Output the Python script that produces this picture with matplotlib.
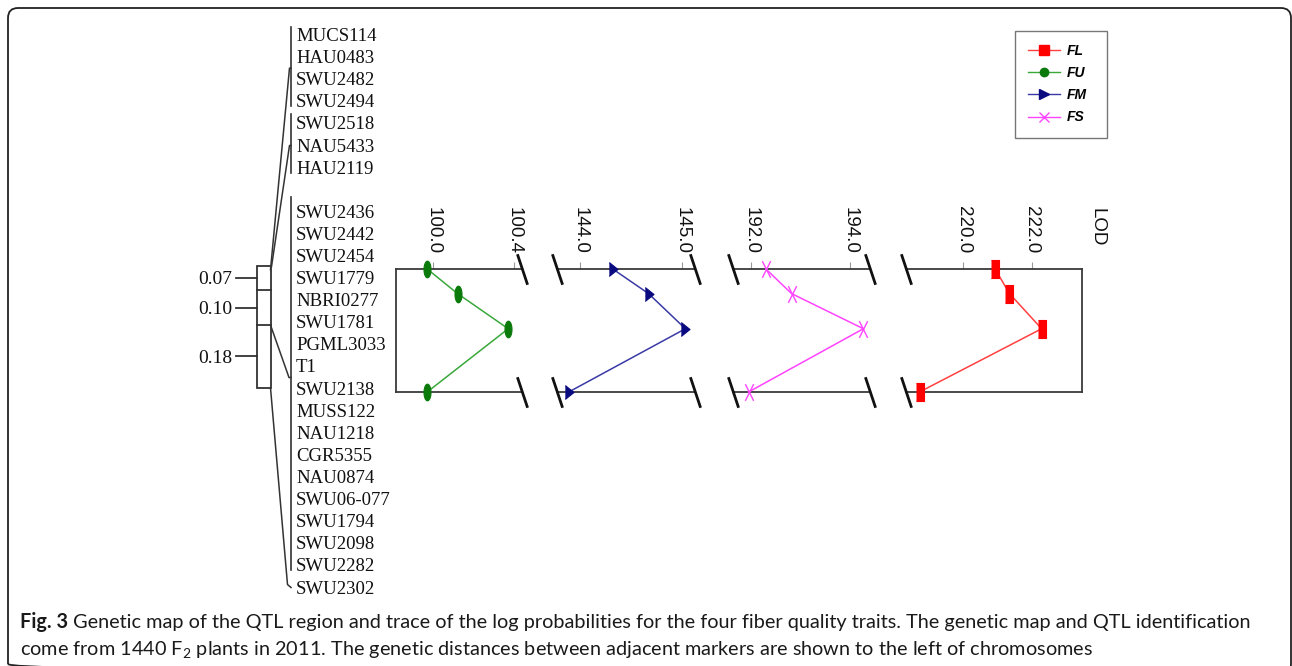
import matplotlib
matplotlib.use('Agg')
import matplotlib.pyplot as plt
import numpy as np
from matplotlib.path import Path
from matplotlib.lines import Line2D
from matplotlib.patches import PathPatch, Rectangle

W, H = 1292, 666

# genetic map markers (top to bottom)
group_a = ['MUCS114', 'HAU0483', 'SWU2482', 'SWU2494']
group_b = ['SWU2518', 'NAU5433', 'HAU2119']
group_c = ['SWU2436', 'SWU2442', 'SWU2454', 'SWU1779', 'NBRI0277', 'SWU1781',
           'PGML3033', 'T1', 'SWU2138', 'MUSS122', 'NAU1218', 'CGR5355',
           'NAU0874', 'SWU06-077', 'SWU1794', 'SWU2098', 'SWU2282']
group_d = ['SWU2302']
interval_cm = [0.07, 0.10, 0.18]
interval_labels = ['0.07', '0.10', '0.18']

# LOD traces: LOD value at each map position (cM)
pos_cm = [0.0, 0.07, 0.17, 0.35]
lod_fu = [99.97, 100.12, 100.37, 99.97]
lod_fm = [144.32, 144.67, 145.03, 143.89]
lod_fs = [192.30, 192.82, 194.27, 191.95]
lod_fl = [220.93, 221.35, 222.29, 218.72]
fu_ticks = [100.0, 100.4]
fm_ticks = [144.0, 145.0]
fs_ticks = [192.0, 194.0]
fl_ticks = [220.0, 222.0]

plt.rcParams['mathtext.fontset'] = 'custom'
plt.rcParams['mathtext.rm'] = 'Lato'
plt.rcParams['mathtext.it'] = 'Lato:italic'

fig = plt.figure(figsize=(W / 100, H / 100), dpi=100)
ax0 = fig.add_axes([0, 0, 1, 1])
ax0.set_xlim(0, W)
ax0.set_ylim(H, 0)
ax0.axis('off')

# border (rounded frame, bottom edge runs off the picture)
L, T, R, B, rc = 8, 8, 1291, 674, 10
frame = Path([(L, B - rc), (L, T + rc), (L, T), (L + rc, T), (R - rc, T), (R, T), (R, T + rc),
              (R, B - rc), (R, B), (R - rc, B), (L + rc, B), (L, B), (L, B - rc)],
             [Path.MOVETO, Path.LINETO, Path.CURVE3, Path.CURVE3, Path.LINETO, Path.CURVE3,
              Path.CURVE3, Path.LINETO, Path.CURVE3, Path.CURVE3, Path.LINETO, Path.CURVE3,
              Path.CURVE3])
ax0.add_patch(PathPatch(frame, fc='none', ec='#222222', lw=1.3))

# ---- genetic map ----
def row_y(i):
    return 35 + 22.1 * i

serif = dict(family='Liberation Serif', size=13.5, color='#111111')
groups = [(group_a, 0, 8), (group_b, 4, 9), (group_c, 8, 15), (group_d, 25, 0)]
for names, start, top_margin in groups:
    for k, name in enumerate(names):
        ax0.text(296, row_y(start + k) + 6, name, va='baseline', **serif)
    if len(names) > 1:
        ax0.plot([291, 291], [row_y(start) - top_margin, row_y(start + len(names) - 1) + 5],
                 color='#333333', lw=1.2)

px_cm = 349.0
box_top = 265.7
bounds = box_top + px_cm * np.concatenate([[0], np.cumsum(interval_cm)])
bx0, bx1 = 257, 270.5
ax0.add_patch(Rectangle((bx0, bounds[0]), bx1 - bx0, bounds[-1] - bounds[0],
                        fc='none', ec='#333333', lw=1.3))
for b in bounds[1:-1]:
    ax0.plot([bx0, bx1], [b, b], color='#333333', lw=1.3)
for k, lab in enumerate(interval_labels):
    ym = (bounds[k] + bounds[k + 1]) / 2
    ax0.plot([236, bx0], [ym, ym], color='#333333', lw=1.3)
    ax0.text(232, ym + 6.5, lab, ha='right', va='baseline', family='Liberation Serif',
             size=14, color='#111111')

conn = [((bx1, box_top + 4), (289.5, row_y(1.5))),
        ((bx1 + 1, box_top + 1), (289.5, row_y(5))),
        ((bx1, bounds[2]), (289, row_y(15.5))),
        ((bx1, bounds[3]), (287.5, row_y(25) - 3))]
for (xa, ya), (xb, yb) in conn:
    ax0.plot([xa, xb, 291], [ya, yb, yb + (3 if yb > 560 else 0)], color='#333333', lw=1.1)

# ---- LOD panels ----
y_top, y_bot = 269, 392
sans = 'Liberation Sans'

def slash():
    return Path([(-1, 3), (1, -3)], [Path.MOVETO, Path.LINETO])

def ellipse():
    t = np.linspace(0, 2 * np.pi, 40)
    return list(zip(0.42 * np.cos(t), np.sin(t)))

rect_m = [(-0.5, -1), (0.5, -1), (0.5, 1), (-0.5, 1)]
tri_m = [(-0.6, -1), (0.65, 0), (-0.6, 1)]
cross_m = Path([(-0.5, -1), (0.5, 1), (-0.5, 1), (0.5, -1)],
               [Path.MOVETO, Path.LINETO, Path.MOVETO, Path.LINETO])

def panel(x0, x1, lo, hi, ticks, lod, lc, mc, marker, ms, left_spine, right_spine,
          brk_left, brk_right, filled=True):
    ax = fig.add_axes([x0 / W, 1 - y_bot / H, (x1 - x0) / W, (y_bot - y_top) / H])
    ax.patch.set_alpha(0)
    ax.set_xlim(lo, hi)
    ax.set_ylim(max(pos_cm), 0)
    ax.set_yticks([])
    ax.xaxis.set_ticks_position('top')
    ax.set_xticks(ticks)
    ax.set_xticklabels(['%.1f' % t for t in ticks], family=sans)
    ax.tick_params(axis='x', direction='out', length=5, width=0.8, color='#999999',
                   pad=6, labelsize=13.5, labelrotation=270, labelcolor='#111111')
    for s in ax.spines.values():
        s.set_color('#3a3a3a')
        s.set_linewidth(1.3)
    ax.spines['left'].set_visible(left_spine)
    ax.spines['right'].set_visible(right_spine)
    kw = dict(transform=ax.transAxes, ls='none', marker=slash(), ms=22, mew=2,
              color='#111111', clip_on=False, zorder=5)
    if brk_left:
        ax.plot([0, 0], [0, 1], **kw)
    if brk_right:
        ax.plot([1, 1], [0, 1], **kw)
    if filled:
        ax.plot(lod, pos_cm, color=lc, lw=1.1, marker=marker, ms=ms, mfc=mc, mec=mc,
                mew=0.8, clip_on=False, zorder=4)
    else:
        ax.plot(lod, pos_cm, color=lc, lw=1.1, marker=marker, ms=ms, mfc='none', mec=mc,
                mew=1.0, clip_on=False, zorder=4)
    return ax

panel(396, 522, 99.816, 100.438, fu_ticks, lod_fu, '#3aa83a', '#0a7a0a', ellipse(), 12,
      True, False, False, True)
panel(557, 695, 143.775, 145.124, fm_ticks, lod_fm, '#3a3aa6', '#0a0a80', tri_m, 10,
      False, False, True, True)
panel(733, 870, 191.636, 194.404, fs_ticks, lod_fs, '#ff44ff', '#ff44ff', cross_m, 12,
      False, False, True, True, filled=False)
panel(906, 1082, 218.325, 223.47, fl_ticks, lod_fl, '#ff4040', '#ff0000', rect_m, 12.5,
      False, True, True, False)

ax0.text(1097, 208, 'LOD', rotation=270, ha='center', va='top', family=sans, size=13.5,
         color='#111111')

# legend
handles = [Line2D([], [], color='#ff4040', marker='s', mfc='#ff0000', mec='#ff0000', ms=6.5, lw=1),
           Line2D([], [], color='#3aa83a', marker='o', mfc='#0a7a0a', mec='#0a7a0a', ms=6, lw=1),
           Line2D([], [], color='#3a3aa6', marker='>', mfc='#0a0a80', mec='#0a0a80', ms=7, lw=1),
           Line2D([], [], color='#ff44ff', marker='x', mec='#ff44ff', ms=7, lw=1)]
leg = fig.legend(handles, ['FL', 'FU', 'FM', 'FS'], loc='upper left',
                 bbox_to_anchor=(1015 / W, 1 - 136 / H, 92 / W, 105 / H),
                 bbox_transform=fig.transFigure, mode='expand',
                 frameon=True, fancybox=False, edgecolor='#777777', framealpha=1,
                 borderaxespad=0, handlelength=2.3, handletextpad=0.5, labelspacing=0.58,
                 borderpad=0.95,
                 prop=dict(family=sans, style='italic', weight='bold', size=10))
leg.get_frame().set_linewidth(1.0)

# caption
cap1_bold = 'Fig. 3'
cap1_rest = ' Genetic map of the QTL region and trace of the log probabilities for the four fiber quality traits. The genetic map and QTL identification'
cap2 = 'come from 1440 F$_2$ plants in 2011. The genetic distances between adjacent markers are shown to the left of chromosomes'
cap_font = 'Lato'
fs = 12.0
r = fig.canvas.get_renderer()
tb = ax0.text(20, 628, cap1_bold, family=cap_font, weight='bold', size=fs, va='baseline',
              color='#1a1a1a')
tr = ax0.text(20, 628, cap1_rest, family=cap_font, size=fs, va='baseline', color='#1a1a1a')
t2 = ax0.text(20, 655, cap2, family=cap_font, size=fs, va='baseline', color='#1a1a1a')
wb = tb.get_window_extent(r).width
wr = tr.get_window_extent(r).width
scale = 1230.0 / (wb + wr)
for t in (tb, tr, t2):
    t.set_fontsize(fs * scale)
wb = tb.get_window_extent(r).width
tr.set_x(20 + wb)

fig.savefig('out.png', dpi=100)
